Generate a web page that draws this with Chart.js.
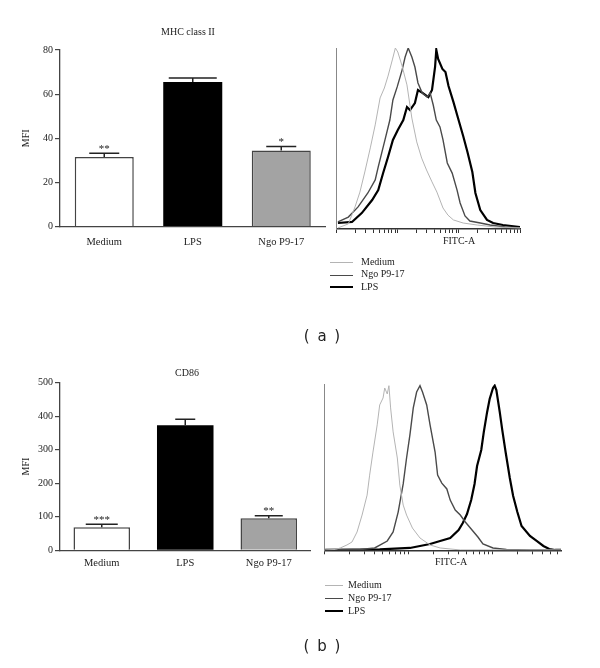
<!DOCTYPE html>
<html>
<head>
<meta charset="utf-8">
<script src="https://cdn.jsdelivr.net/npm/chart.js"></script>
<style>
  body { margin: 0; background: #fff; }
  #page { position: relative; width: 600px; height: 668px; overflow: hidden; font-family: 'Liberation Serif', serif; color: #222; }
  canvas { position: absolute; }
  .panel-label { position: absolute; width: 80px; text-align: center; font: 15px 'DejaVu Sans', sans-serif; color: #222; word-spacing: 3px; }
  .axis-label { position: absolute; width: 60px; text-align: center; font-size: 10px; }
  .legend { position: absolute; font-size: 10px; }
  .legend div { white-space: nowrap; }
  .legend span { display: inline-block; vertical-align: middle; }
</style>
</head>
<body>
<div id="page">
  <canvas id="barA" width="330" height="300" style="left:0;top:0"></canvas>
  <canvas id="histA" width="270" height="300" style="left:330px;top:0"></canvas>
  <canvas id="barB" width="320" height="300" style="left:0;top:330px"></canvas>
  <canvas id="histB" width="282" height="300" style="left:318px;top:330px"></canvas>

  <div class="axis-label" style="left:429px;top:235px">FITC-A</div>
  <div class="axis-label" style="left:421px;top:556px">FITC-A</div>

  <div class="legend" id="legA" style="left:330px;top:256px"></div>
  <div class="legend" id="legB" style="left:325px;top:579px"></div>

  <div class="panel-label" style="left:282px;top:327px">( a )</div>
  <div class="panel-label" style="left:282px;top:637px">( b )</div>
</div>
<script>
Chart.defaults.font.family = "'Liberation Serif', 'Times New Roman', serif";
Chart.defaults.font.size = 10;
Chart.defaults.color = '#222';

const groups = ['Medium', 'LPS', 'Ngo P9-17'];
const barFill = ['#ffffff', '#000000', '#a3a3a3'];
const barEdge = ['#444444', '#000000', '#444444'];

// (a) MHC class II, MFI
const mhcMfi = [31.6, 65.5, 34.5];
const mhcSem = [1.7, 1.8, 1.8];
const mhcSig = ['**', '', '*'];

// (b) CD86, MFI
const cdMfi = [68.6, 373, 95.5];
const cdSem = [9, 18, 7.5];
const cdSig = ['***', '', '**'];

// log tick marks on the FITC-A axis
const fitcTicks = [1, 2, 3, 4, 5, 6, 7, 8, 9, 10, 20, 30, 40, 50, 60, 70, 80, 90,
  100, 200, 300, 400, 500, 600, 700, 800, 900, 1000];

// histograms: x = log10(FITC-A), y = % of peak
const mhcMediumX = [0.02, 0.19, 0.30, 0.38, 0.46, 0.55, 0.63, 0.71, 0.78, 0.84, 0.91, 0.96, 1.00, 1.07, 1.15, 1.23, 1.31, 1.39, 1.47, 1.56, 1.64, 1.74, 1.82, 1.91, 2.07, 2.30, 2.59, 3.00];
const mhcMediumY = [0.6, 2.8, 12.2, 20.4, 31.5, 44.8, 57.5, 72.4, 77.9, 84.5, 93.4, 100, 97.8, 90.1, 79.6, 61.3, 48.1, 39.2, 32.6, 26.0, 20.4, 11.6, 7.7, 5.0, 3.3, 2.2, 1.1, 0.6];
const mhcNgoX = [0.02, 0.19, 0.35, 0.51, 0.63, 0.68, 0.79, 0.87, 0.92, 0.99, 1.07, 1.12, 1.17, 1.23, 1.28, 1.33, 1.40, 1.48, 1.53, 1.58, 1.63, 1.69, 1.74, 1.81, 1.89, 1.97, 2.02, 2.10, 2.18, 2.35, 2.51, 2.76, 3.00];
const mhcNgoY = [3.9, 6.6, 12.2, 19.9, 27.1, 34.3, 49.2, 60.2, 71.3, 78.5, 87.8, 95.0, 100, 95.0, 89.5, 80.7, 75.1, 72.9, 75.1, 68.5, 60.2, 56.4, 49.2, 36.5, 30.9, 21.5, 14.4, 7.2, 4.4, 3.3, 2.2, 1.1, 0.6];
const mhcLpsX = [0.02, 0.25, 0.41, 0.58, 0.68, 0.76, 0.84, 0.92, 1.00, 1.09, 1.15, 1.20, 1.28, 1.33, 1.41, 1.50, 1.56, 1.61, 1.63, 1.66, 1.73, 1.78, 1.83, 1.91, 1.99, 2.07, 2.14, 2.22, 2.27, 2.35, 2.46, 2.56, 2.72, 3.00];
const mhcLpsY = [3.3, 3.9, 8.8, 16.0, 21.5, 30.9, 39.8, 49.2, 54.7, 60.2, 67.4, 65.7, 69.6, 76.8, 75.1, 72.9, 76.8, 89.5, 99, 93.9, 88.4, 86.7, 79.0, 70.2, 60.8, 51.4, 42.5, 31.5, 19.9, 10.5, 5.0, 3.3, 2.2, 1.1];

const cdMediumX = [0.01, 0.13, 0.19, 0.27, 0.33, 0.39, 0.45, 0.51, 0.54, 0.58, 0.63, 0.66, 0.70, 0.72, 0.75, 0.77, 0.79, 0.82, 0.87, 0.90, 0.94, 0.98, 1.05, 1.14, 1.26, 1.38, 1.62, 2.82];
const cdMediumY = [0.2, 0.5, 1.4, 3.2, 5.0, 11.0, 21.2, 33.2, 45.2, 59.1, 75.4, 87.4, 91.6, 97.6, 94.0, 99, 85.6, 71.2, 55.5, 39.2, 27.2, 21.2, 13.4, 7.4, 3.2, 1.4, 0.2, 0.2];
const cdNgoX = [0.01, 0.43, 0.60, 0.75, 0.82, 0.88, 0.94, 0.98, 1.02, 1.06, 1.10, 1.14, 1.17, 1.22, 1.26, 1.32, 1.35, 1.40, 1.46, 1.50, 1.56, 1.62, 1.68, 1.74, 1.83, 1.89, 2.01, 2.17, 2.44, 2.82];
const cdNgoY = [0.2, 0.5, 1.4, 5.6, 11.0, 23.0, 39.9, 55.5, 69.4, 85.6, 95.2, 99, 95.2, 87.4, 75.4, 59.1, 45.3, 40.4, 36.9, 30.2, 24.2, 21.2, 17.0, 13.4, 8.0, 3.8, 1.4, 0.5, 0.2, 0.2];
const cdLpsX = [0.01, 0.66, 1.02, 1.26, 1.38, 1.50, 1.60, 1.65, 1.70, 1.75, 1.79, 1.82, 1.87, 1.90, 1.94, 1.97, 2.01, 2.03, 2.05, 2.09, 2.12, 2.16, 2.21, 2.25, 2.30, 2.35, 2.45, 2.53, 2.61, 2.68, 2.75, 2.82];
const cdLpsY = [0.2, 0.5, 1.4, 3.8, 5.6, 7.4, 12.2, 16.4, 21.8, 30.2, 39.9, 50.7, 60.3, 71.1, 83.2, 91.0, 97.6, 99, 96.4, 83.2, 72.4, 59.1, 43.5, 32.7, 23.0, 14.6, 8.6, 5.6, 2.6, 0.8, 0.2, 0.2];

const curveStyle = {
  Medium: { color: '#b4b4b4', width: 1 },
  'Ngo P9-17': { color: '#4a4a4a', width: 1.4 },
  LPS: { color: '#000000', width: 2.2 }
};

// error bars, stars, title and MFI label drawn on the bar charts
const barExtras = {
  id: 'barExtras',
  afterDatasetsDraw(chart, args, o) {
    const ctx = chart.ctx, y = chart.scales.y, meta = chart.getDatasetMeta(0);
    ctx.save();
    ctx.strokeStyle = '#222';
    ctx.lineWidth = 1.5;
    ctx.fillStyle = '#222';
    meta.data.forEach((bar, i) => {
      const base = y.getPixelForValue(o.values[i]);
      const top = y.getPixelForValue(o.values[i] + o.sem[i]);
      ctx.beginPath();
      ctx.moveTo(bar.x, base);
      ctx.lineTo(bar.x, top);
      ctx.moveTo(bar.x - o.capW[i] / 2, top);
      ctx.lineTo(bar.x + o.capW[i] / 2, top);
      ctx.stroke();
      if (o.sig[i]) {
        ctx.font = "11px 'Liberation Serif'";
        ctx.textAlign = 'center';
        ctx.textBaseline = 'alphabetic';
        ctx.fillText(o.sig[i], bar.x, top - 1.5);
      }
    });
    ctx.font = "10px 'Liberation Serif'";
    ctx.textAlign = 'center';
    ctx.textBaseline = 'middle';
    ctx.fillText(o.title, o.titleX, o.titleY);
    const area = chart.chartArea;
    ctx.translate(26, (area.top + area.bottom) / 2);
    ctx.rotate(-Math.PI / 2);
    ctx.fillText('MFI', 0, 0);
    ctx.restore();
  }
};

function barChart(id, values, sem, sig, yMax, step, pad, catPct, labelPad, extras) {
  return new Chart(document.getElementById(id), {
    type: 'bar',
    data: {
      labels: groups,
      datasets: [{
        data: values,
        backgroundColor: barFill,
        borderColor: barEdge,
        borderWidth: [1.5, 0, 1.5],
        barPercentage: 1,
        categoryPercentage: catPct
      }]
    },
    options: {
      responsive: false,
      animation: false,
      layout: { padding: pad },
      plugins: {
        legend: { display: false },
        tooltip: { enabled: false },
        barExtras: Object.assign({ values: values, sem: sem, sig: sig }, extras)
      },
      scales: {
        x: {
          grid: { display: false, drawTicks: false },
          border: { display: true, color: '#444', width: 1.3 },
          ticks: { padding: labelPad, font: { size: 10.5 }, color: '#222' },
          afterFit: s => { s.height = 30; }
        },
        y: {
          min: 0,
          max: yMax,
          ticks: { stepSize: step, padding: 2, color: '#222' },
          grid: { drawOnChartArea: false, drawTicks: true, tickLength: 5, color: '#444', lineWidth: 1.2 },
          border: { display: true, color: '#444', width: 1.3 },
          afterFit: s => { s.width = 40; }
        }
      }
    },
    plugins: [barExtras]
  });
}

function histChart(id, curves, xMax, pad) {
  return new Chart(document.getElementById(id), {
    type: 'line',
    data: {
      datasets: curves.map(c => ({
        label: c.name,
        data: c.x.map((v, i) => ({ x: v, y: c.y[i] })),
        borderColor: curveStyle[c.name].color,
        borderWidth: curveStyle[c.name].width,
        pointRadius: 0,
        tension: 0,
        fill: false
      }))
    },
    options: {
      responsive: false,
      animation: false,
      layout: { padding: pad },
      plugins: { legend: { display: false }, tooltip: { enabled: false } },
      scales: {
        x: {
          type: 'linear',
          min: 0,
          max: xMax,
          afterBuildTicks: s => {
            s.ticks = fitcTicks.map(v => Math.log10(v)).filter(v => v <= xMax).map(v => ({ value: v }));
          },
          ticks: { display: false },
          grid: { drawOnChartArea: false, drawTicks: true, tickLength: 4, color: '#333', lineWidth: 1 },
          border: { display: true, color: '#333', width: 1.4 },
          afterFit: s => { s.height = 20; }
        },
        y: {
          min: 0,
          max: 100,
          ticks: { display: false },
          grid: { display: false },
          border: { display: true, color: '#888', width: 1 },
          afterFit: s => { s.width = 0; }
        }
      }
    }
  });
}

barChart('barA', mhcMfi, mhcSem, mhcSig, 80, 20,
  { left: 20, right: 4.5, top: 50, bottom: 43.3 }, 0.667, 9,
  { capW: [30, 48, 30], title: 'MHC class II', titleX: 188, titleY: 32 });

barChart('barB', cdMfi, cdSem, cdSig, 500, 100,
  { left: 20, right: 9.5, top: 52.7, bottom: 49.7 }, 0.677, 7,
  { capW: [32, 20, 28], title: 'CD86', titleX: 187, titleY: 43 });

histChart('histA', [
  { name: 'Medium', x: mhcMediumX, y: mhcMediumY },
  { name: 'Ngo P9-17', x: mhcNgoX, y: mhcNgoY },
  { name: 'LPS', x: mhcLpsX, y: mhcLpsY }
], 3.0, { left: 6.7, right: 80, top: 48, bottom: 51 });

histChart('histB', [
  { name: 'Medium', x: cdMediumX, y: cdMediumY },
  { name: 'Ngo P9-17', x: cdNgoX, y: cdNgoY },
  { name: 'LPS', x: cdLpsX, y: cdLpsY }
], 2.82, { left: 6.3, right: 39, top: 54, bottom: 59.7 });

// legends under the histograms
function legend(id, lineW, gap, rowH) {
  const box = document.getElementById(id);
  ['Medium', 'Ngo P9-17', 'LPS'].forEach(name => {
    const row = document.createElement('div');
    row.style.height = rowH + 'px';
    row.style.lineHeight = rowH + 'px';
    const line = document.createElement('span');
    line.style.width = lineW + 'px';
    line.style.borderTop = curveStyle[name].width + 'px solid ' + curveStyle[name].color;
    line.style.marginRight = gap + 'px';
    row.appendChild(line);
    row.appendChild(document.createTextNode(name));
    box.appendChild(row);
  });
}
legend('legA', 23, 8, 12.3);
legend('legB', 18, 5, 12.8);
</script>
</body>
